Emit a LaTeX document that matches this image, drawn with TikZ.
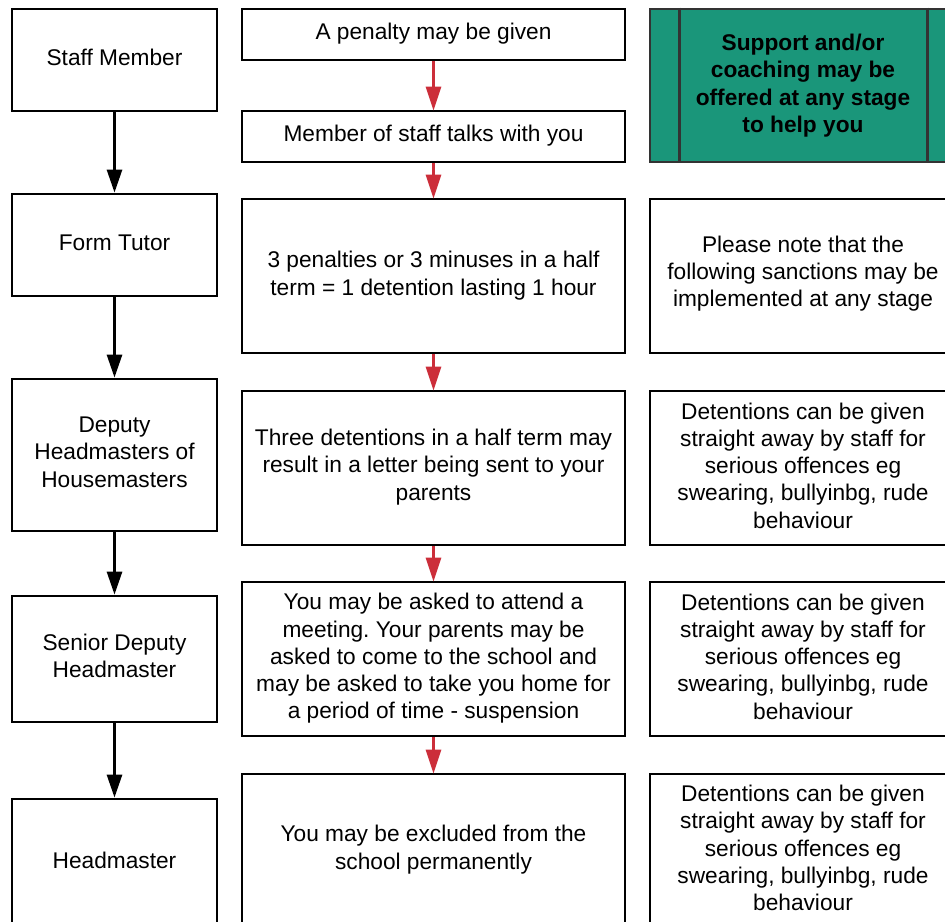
\documentclass[tikz,border=0pt]{standalone}
\usepackage{fontspec}
\setmainfont{Liberation Sans}
\usetikzlibrary{arrows.meta}
\definecolor{arrred}{RGB}{204,46,58}
\definecolor{teal1}{RGB}{26,150,122}
\definecolor{darkedge}{RGB}{51,51,51}
\begin{document}
\frenchspacing
\begin{tikzpicture}[x=1pt,y=-1pt,
  every node/.style={inner sep=0pt},
  txt/.style={font=\fontsize{22.7}{27.3}\selectfont, align=center},
  box/.style={draw=black, line width=2.8pt, fill=white, rectangle},
  leftbox/.style={box, minimum width=205pt},
  midbox/.style={box, minimum width=383pt},
  rightbox/.style={box, minimum width=306pt},
  blackarrow/.style={draw=black, line width=2.8pt, -{Triangle[width=15pt,length=23pt]}},
  redarrow/.style={draw=arrred, line width=2.8pt, -{Triangle[width=15pt,length=24pt]}, shorten >=-1pt}
]
\useasboundingbox (0,0) rectangle (945,921);
\clip (0,0) rectangle (945,921);
\fill[white] (0,0) rectangle (945,921);

% left column
\node[leftbox, minimum height=102pt] (sm) at (114.5,60) {};
\node[leftbox, minimum height=102pt] (ft) at (114.5,245) {};
\node[leftbox, minimum height=152pt] (dh) at (114.5,455) {};
\node[leftbox, minimum height=126pt] (sd) at (114.5,659) {};
\node[leftbox, minimum height=124pt] (hm) at (114.5,861) {};
\node[txt] (smt) at ([yshift=3pt]sm.center) {Staff Member};
\node[txt] (ftt) at ([yshift=2pt]ft.center) {Form Tutor};
\node[txt] (dht) at ([yshift=3pt]dh.center) {Deputy\\Headmasters of\\Housemasters};
\node[txt] (sdt) at ([yshift=3pt]sd.center) {Senior Deputy\\Headmaster};
\node[txt] (hmt) at ([yshift=1pt]hm.center) {Headmaster};

% middle column
\node[midbox, minimum height=51pt] (p1) at (433.5,34.5) {};
\node[midbox, minimum height=51pt] (p2) at (433.5,136.5) {};
\node[midbox, minimum height=154pt] (p3) at (433.5,276) {};
\node[midbox, minimum height=154pt] (p4) at (433.5,468) {};
\node[midbox, minimum height=154pt] (p5) at (433.5,659) {};
\node[midbox, minimum height=154pt] (p6) at (433.5,851) {};
\node[txt] (p1t) at ([yshift=1pt]p1.center) {A penalty may be given};
\node[txt] (p2t) at ([yshift=1pt]p2.center) {Member of staff talks with you};
\node[txt] (p3t) at ([yshift=0.5pt]p3.center) {3 penalties or 3 minuses in a half\\term = 1 detention lasting 1 hour};
\node[txt] (p4t) at ([yshift=1pt]p4.center) {Three detentions in a half term may\\result in a letter being sent to your\\parents};
\node[txt] (p5t) at ([yshift=0.5pt]p5.center) {You may be asked to attend a\\meeting. Your parents may be\\asked to come to the school and\\may be asked to take you home for\\a period of time - suspension};
\node[txt] (p6t) at ([yshift=1.5pt]p6.center) {You may be excluded from the\\school permanently};

% right column
\node[draw=darkedge, line width=2.8pt, fill=teal1, minimum width=306pt, minimum height=153pt] (g) at (803,85.5) {};
\draw[darkedge, line width=2.8pt] ([xshift=31pt]g.north west) -- ([xshift=31pt]g.south west);
\draw[darkedge, line width=2.8pt] ([xshift=-30pt]g.north east) -- ([xshift=-30pt]g.south east);
\node[txt, font=\fontsize{22.7}{27.3}\selectfont\bfseries] (gt) at (g.center) {Support and/or\\coaching may be\\offered at any stage\\to help you};
\node[rightbox, minimum height=154pt] (r1) at (803,276) {};
\node[rightbox, minimum height=154pt] (r2) at (803,468) {};
\node[rightbox, minimum height=154pt] (r3) at (803,659) {};
\node[rightbox, minimum height=154pt] (r4) at (803,851) {};
\node[txt] (r1t) at ([yshift=2.5pt]r1.center) {Please note that the\\following sanctions may be\\implemented at any stage};
\node[txt] (r2t) at ([yshift=2.5pt]r2.center) {Detentions can be given\\straight away by staff for\\serious offences eg\\swearing, bullyinbg, rude\\behaviour};
\node[txt] (r3t) at ([yshift=2.5pt]r3.center) {Detentions can be given\\straight away by staff for\\serious offences eg\\swearing, bullyinbg, rude\\behaviour};
\node[txt] (r4t) at ([yshift=3pt]r4.center) {Detentions can be given\\straight away by staff for\\serious offences eg\\swearing, bullyinbg, rude\\behaviour};

% black arrows
\draw[blackarrow] (sm) -- (ft);
\draw[blackarrow] (ft) -- (dh);
\draw[blackarrow] (dh) -- (sd);
\draw[blackarrow] (sd) -- (hm);

% red arrows
\draw[redarrow] (p1) -- (p2);
\draw[redarrow] (p2) -- (p3);
\draw[redarrow] (p3) -- (p4);
\draw[redarrow] (p4) -- (p5);
\draw[redarrow] (p5) -- (p6);
\end{tikzpicture}
\end{document}
